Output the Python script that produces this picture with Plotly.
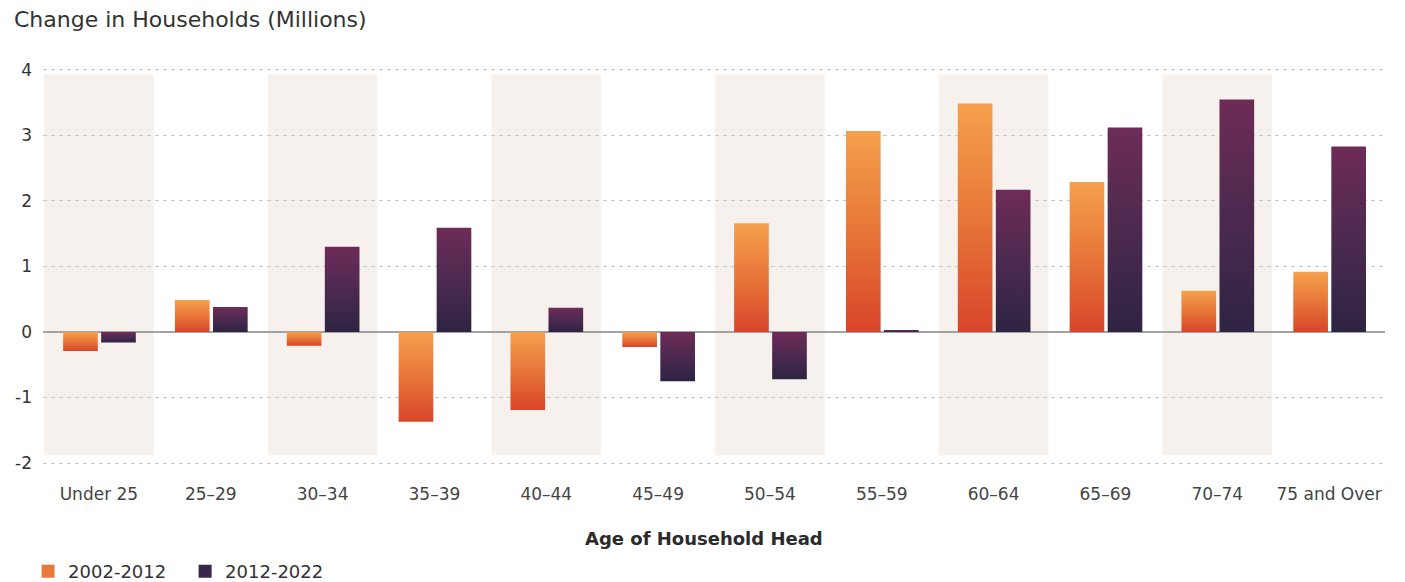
import plotly.graph_objects as go

# Age bands of the household head
categories = ["Under 25", "25–29", "30–34", "35–39", "40–44", "45–49",
              "50–54", "55–59", "60–64", "65–69", "70–74", "75 and Over"]

# Change in households, millions
change_2002_2012 = [-0.29, 0.49, -0.21, -1.37, -1.19, -0.23,
                    1.66, 3.07, 3.49, 2.29, 0.63, 0.92]
change_2012_2022 = [-0.16, 0.38, 1.30, 1.59, 0.37, -0.75,
                    -0.72, 0.03, 2.17, 3.12, 3.55, 2.83]

y_ticks = [-2, -1, 0, 1, 2, 3, 4]

series = [
    ("2002-2012", change_2002_2012, -0.32, -0.01,
     [[0, "#d8452a"], [0.5, "#e77638"], [1, "#f5a04e"]], "#e77a3a"),
    ("2012-2022", change_2012_2022, 0.02, 0.33,
     [[0, "#2e2442"], [0.5, "#4c2a4f"], [1, "#6e2b58"]], "#3a2648"),
]

FONT = "'DejaVu Sans', sans-serif"

fig = go.Figure()

# Gradient-filled bars, one closed polygon per value
for name, values, off0, off1, scale, swatch in series:
    for i, v in enumerate(values):
        x0, x1 = i + off0, i + off1
        fig.add_trace(go.Scatter(
            x=[x0, x1, x1, x0, x0],
            y=[0, 0, v, v, 0],
            mode="lines",
            line=dict(width=0),
            fill="toself",
            fillgradient=dict(type="vertical", colorscale=scale),
            hoverinfo="skip",
            showlegend=False,
        ))
    # Legend entry
    fig.add_trace(go.Scatter(
        x=[None], y=[None], mode="markers", name=name,
        marker=dict(symbol="square", size=13, color=swatch),
    ))

# Alternating shaded columns
for i in range(0, len(categories), 2):
    fig.add_shape(type="rect", xref="x", yref="y",
                  x0=i - 0.49, x1=i + 0.49, y0=-1.88, y1=3.93,
                  fillcolor="#f7f1ed", line=dict(width=0), layer="below")

fig.update_layout(
    width=1405, height=582,
    margin=dict(l=43, r=20, t=68, b=117, autoexpand=False),
    plot_bgcolor="white", paper_bgcolor="white",
    font=dict(family=FONT, color="#333333"),
    showlegend=True,
    legend=dict(orientation="h", xref="container", yref="container",
                x=0.02, y=0.018, xanchor="left", yanchor="middle",
                font=dict(size=18, color="#333333"), itemwidth=30,
                entrywidth=112, bgcolor="rgba(0,0,0,0)"),
    xaxis=dict(range=[-0.5, 11.5], tickmode="array",
               tickvals=list(range(len(categories))), ticktext=categories,
               showgrid=False, zeroline=False, showline=False,
               ticks="", ticklabelstandoff=17, automargin=False,
               tickfont=dict(size=17, color="#444444"), fixedrange=True),
    yaxis=dict(range=[-2.03, 4.03], tickmode="array", tickvals=y_ticks,
               ticktext=[str(t) for t in y_ticks],
               showgrid=True, gridcolor="#c8c8c8", griddash="4px,4px",
               gridwidth=1, zeroline=True, zerolinecolor="#a3a3a3",
               zerolinewidth=1.5, showline=False, ticks="",
               ticklabelstandoff=10, automargin=False,
               tickfont=dict(size=17, color="#333333"), fixedrange=True),
    annotations=[
        dict(text="Change in Households (Millions)", xref="paper",
             yref="paper", x=-0.023, y=1.121, xanchor="left",
             yanchor="middle", showarrow=False,
             font=dict(size=22, color="#333333")),
        dict(text="<b>Age of Household Head</b>", xref="paper",
             yref="paper", x=0.4925, y=-0.184, xanchor="center",
             yanchor="middle", showarrow=False,
             font=dict(size=18, color="#2b2b2b")),
    ],
)

fig.write_html("out.html")
